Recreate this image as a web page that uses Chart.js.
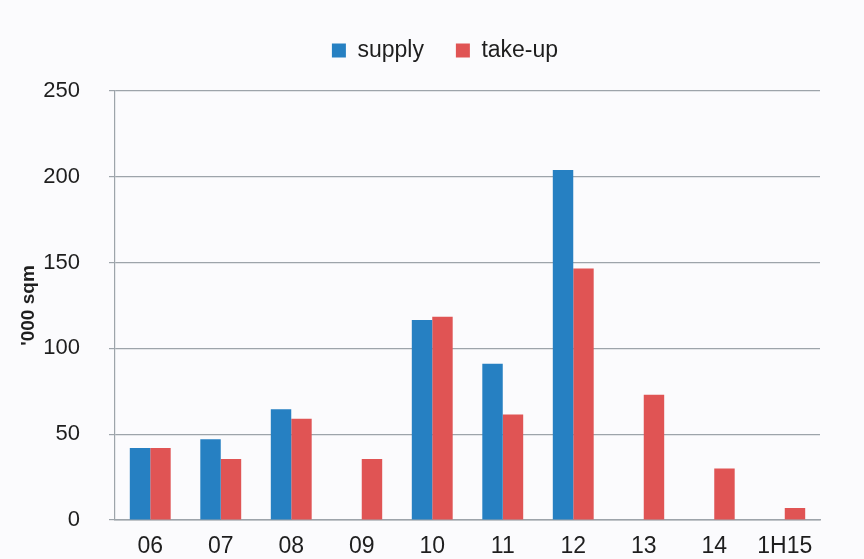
<!DOCTYPE html>
<html>
<head>
<meta charset="utf-8">
<script src="https://cdn.jsdelivr.net/npm/chart.js@4/dist/chart.umd.min.js"></script>
<style>
  html, body { margin: 0; padding: 0; background: #fbfbfd; }
  #wrap { width: 864px; height: 559px; }
</style>
</head>
<body>
<div id="wrap"><canvas id="c" width="864" height="559"></canvas></div>
<script>
// Office space: new supply vs. take-up, '000 sqm
const categories = ['06', '07', '08', '09', '10', '11', '12', '13', '14', '1H15'];
const supply = [42, 47, 64.5, null, 116.5, 91, 204, null, null, null];
const takeUp = [42, 35.5, 59, 35.5, 118.5, 61.5, 146.5, 73, 30, 7];
const yTicks = [0, 50, 100, 150, 200, 250];

const FONT = "'Liberation Sans', Arial, Helvetica, sans-serif";
const INK = '#1e1e1e';
const GRID = '#9da4aa';

// nudge the legend row to sit over the middle of the plot
const legendShift = {
  id: 'legendShift',
  beforeInit(chart) {
    const fit = chart.legend.fit;
    chart.legend.fit = function () {
      fit.call(this);
      this.height = 84;
    };
  },
  afterLayout(chart) {
    chart.legend.left += 35;
    chart.legend.right += 35;
  }
};

new Chart(document.getElementById('c'), {
  type: 'bar',
  data: {
    labels: categories,
    datasets: [
      { label: 'supply', data: supply, backgroundColor: '#2680c2' },
      { label: 'take-up', data: takeUp, backgroundColor: '#e05454' }
    ]
  },
  options: {
    responsive: false,
    animation: false,
    layout: { padding: { top: 7, right: 44, bottom: 0, left: 0 } },
    datasets: { bar: { barPercentage: 1, categoryPercentage: 0.58 } },
    plugins: {
      legend: {
        position: 'top',
        labels: {
          color: INK,
          font: { family: FONT, size: 23 },
          boxWidth: 14,
          boxHeight: 14,
          padding: 32
        }
      },
      tooltip: { enabled: false }
    },
    scales: {
      x: {
        grid: { display: false, drawTicks: false },
        border: { display: true, color: GRID, width: 1.5 },
        ticks: { color: INK, font: { family: FONT, size: 23 }, padding: 13, maxRotation: 0 },
        afterFit(scale) { scale.height = 39; }
      },
      y: {
        min: 0,
        max: 250,
        afterBuildTicks(scale) { scale.ticks = yTicks.map(v => ({ value: v })); },
        grid: { color: GRID, lineWidth: 1.2, tickLength: 6 },
        border: { display: true, color: GRID, width: 1.2 },
        ticks: { color: INK, font: { family: FONT, size: 22 }, padding: 29 },
        title: {
          display: true,
          text: "'000 sqm",
          color: INK,
          font: { family: FONT, size: 19, weight: 'bold' },
          padding: { top: 17, bottom: 0 }
        },
        afterFit(scale) {
          scale.width = 115;
          // only half a label needs to hang past the plot ends
          scale.paddingTop = 14;
          scale.paddingBottom = 14;
        }
      }
    }
  },
  plugins: [legendShift]
});
</script>
</body>
</html>
